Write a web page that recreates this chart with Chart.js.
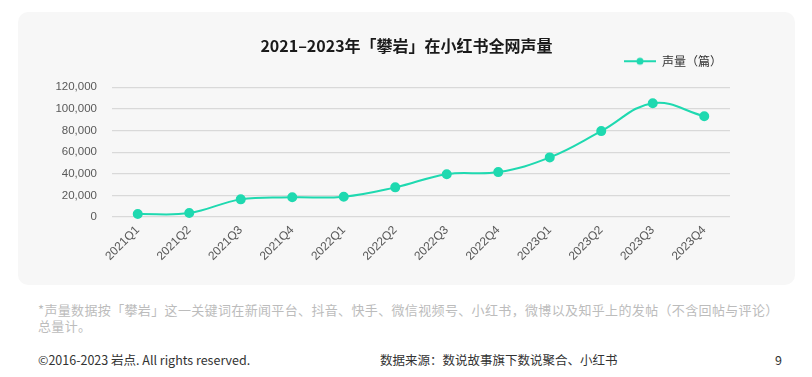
<!DOCTYPE html>
<html>
<head>
<meta charset="utf-8">
<script src="https://cdn.jsdelivr.net/npm/chart.js@4/dist/chart.umd.min.js"></script>
<style>
  html, body { margin: 0; padding: 0; background: #fff; width: 812px; height: 377px; overflow: hidden; }
  body { font-family: "Noto Sans CJK SC", "Noto Sans", sans-serif; position: relative; }
  .panel { position: absolute; left: 18px; top: 12px; width: 777px; height: 273px; background: #f7f7f7; border-radius: 10px; }
  .panel canvas { position: absolute; left: 0; top: 0; }
  .note { position: absolute; left: 38px; top: 302px; font-size: 13px; line-height: 16px; color: #bcbcbc; letter-spacing: 0.35px; white-space: nowrap; }
  .foot { position: absolute; top: 350px; font-size: 12.5px; color: #333; white-space: nowrap; }
</style>
</head>
<body>
<div class="panel"><canvas id="voiceChart" width="777" height="273"></canvas></div>
<div class="note">*声量数据按「攀岩」这一关键词在新闻平台、抖音、快手、微信视频号、小红书，微博以及知乎上的发帖（不含回帖与评论）<br>总量计。</div>
<div class="foot" style="left:38px;">©2016-2023 岩点. All rights reserved.</div>
<div class="foot" style="left:380px;">数据来源：数说故事旗下数说聚合、小红书</div>
<div class="foot" style="left:775px;">9</div>
<script>
// quarters on the x axis
const quarters = ['2021Q1', '2021Q2', '2021Q3', '2021Q4', '2022Q1', '2022Q2', '2022Q3', '2022Q4', '2023Q1', '2023Q2', '2023Q3', '2023Q4'];
// 声量 (posts)
const voiceValues = [2800, 3700, 16300, 18200, 18800, 27400, 39600, 41500, 55100, 79400, 105200, 93200];
const yTicks = [0, 20000, 40000, 60000, 80000, 100000, 120000];

const lineColor = '#1fd9b0';

// small line + dot marker for the legend
function legendMarker() {
    const c = document.createElement('canvas');
    c.width = 32; c.height = 10;
    const g = c.getContext('2d');
    g.strokeStyle = lineColor;
    g.lineWidth = 2;
    g.beginPath(); g.moveTo(0, 5); g.lineTo(32, 5); g.stroke();
    g.fillStyle = lineColor;
    g.beginPath(); g.arc(16, 5, 3.5, 0, Math.PI * 2); g.fill();
    return c;
}

const ctx = document.getElementById('voiceChart');
new Chart(ctx, {
    type: 'line',
    data: {
        labels: quarters,
        datasets: [{
            label: '声量（篇）',
            data: voiceValues,
            borderColor: lineColor,
            backgroundColor: lineColor,
            borderWidth: 2,
            pointRadius: 4,
            pointHoverRadius: 4,
            tension: 0.4,
            fill: false
        }]
    },
    options: {
        responsive: false,
        animation: false,
        layout: { padding: { left: 0, right: 0, top: 0, bottom: 8 } },
        plugins: {
            title: {
                display: true,
                text: '2021–2023年「攀岩」在小红书全网声量',
                color: '#1a1a1a',
                font: { family: '"Noto Sans CJK SC", sans-serif', size: 16, weight: 'bold' },
                padding: { top: 24, bottom: -8 }
            },
            legend: {
                position: 'top',
                align: 'end',
                fullSize: false,
                labels: {
                    usePointStyle: true,
                    pointStyleWidth: 32,
                    color: '#333',
                    font: { family: '"Noto Sans CJK SC", sans-serif', size: 12 },
                    padding: 8,
                    generateLabels: chart => [{
                        text: chart.data.datasets[0].label,
                        pointStyle: legendMarker(),
                        fillStyle: lineColor,
                        strokeStyle: lineColor,
                        lineWidth: 0,
                        fontColor: '#333',
                        datasetIndex: 0
                    }]
                }
            },
            tooltip: { enabled: false }
        },
        scales: {
            x: {
                offset: true,
                grid: { display: false, drawTicks: false },
                border: { display: false },
                ticks: {
                    color: '#595959',
                    font: { family: '"Liberation Sans", sans-serif', size: 12 },
                    minRotation: 45,
                    maxRotation: 45,
                    padding: 6
                },
                afterFit: s => { s.height = 60; }
            },
            // spacer axes: room between legend and plot, and on the right
            xTop: {
                type: 'category',
                position: 'top',
                grid: { display: false, drawTicks: false },
                border: { display: false },
                ticks: { display: false },
                afterFit: s => { s.height = 10; }
            },
            yRight: {
                type: 'linear',
                position: 'right',
                grid: { display: false, drawTicks: false },
                border: { display: false },
                ticks: { display: false },
                afterFit: s => { s.width = 65; }
            },
            y: {
                min: 0,
                max: 120000,
                afterBuildTicks: s => { s.ticks = yTicks.map(v => ({ value: v })); },
                grid: { color: '#d9d9d9', lineWidth: 1.2, drawTicks: false },
                border: { display: false },
                ticks: {
                    color: '#595959',
                    font: { family: '"Liberation Sans", sans-serif', size: 11.5 },
                    padding: 15,
                    callback: v => v.toLocaleString('en-US')
                },
                afterFit: s => { s.width = 94; }
            }
        }
    }
});
</script>
</body>
</html>
